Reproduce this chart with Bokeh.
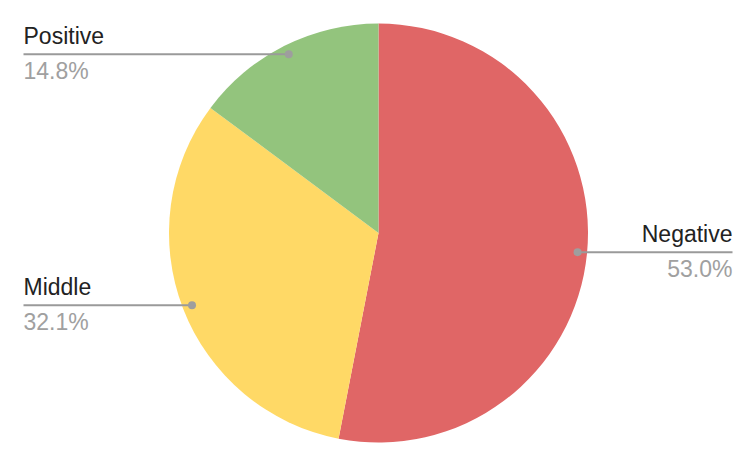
import math
from bokeh.plotting import figure
from bokeh.models import Range1d
from bokeh.core.properties import value
from bokeh.embed import file_html
from bokeh.resources import INLINE

categories = ["Negative", "Middle", "Positive"]
shares = [53.0, 32.1, 14.8]
pct_labels = ["53.0%", "32.1%", "14.8%"]
colors = ["#E06666", "#FFD966", "#93C47D"]

W, H = 756, 466
cx, cy, R = 378, H - 232.5, 209.5
dot_r = 200

p = figure(width=W, height=H, output_backend="svg", toolbar_location=None,
           x_range=Range1d(0, W), y_range=Range1d(0, H), min_border=0)
p.axis.visible = False
p.grid.visible = False
p.outline_line_color = None
p.background_fill_color = "white"

total = sum(shares)
start = math.pi / 2
starts, ends, mids = [], [], []
for s in shares:
    a = 2 * math.pi * s / total
    starts.append(start)
    ends.append(start - a)
    mids.append(start - a / 2)
    start -= a

p.wedge(x=[cx] * 3, y=[cy] * 3, radius=R, start_angle=starts, end_angle=ends,
        direction="clock", fill_color=colors, line_color=None)

font = value("Liberation Sans")
for cat, pct, m in zip(categories, pct_labels, mids):
    dx = cx + dot_r * math.cos(m)
    dy = cy + dot_r * math.sin(m)
    if dx > cx:
        xe, align = 732, "right"
    else:
        xe, align = 23, "left"
    p.line([dx, xe], [dy, dy], line_color="#9a9a9a", line_width=2)
    p.scatter([dx], [dy], size=8, fill_color="#9e9e9e", line_color=None)
    p.text([xe], [dy + 18], text=[cat], text_font=font, text_font_size="23px",
           text_color="#222222", text_align=align, text_baseline="alphabetic")
    p.text([xe], [dy - 17], text=[pct], text_font=font, text_font_size="23px",
           text_color="#a0a0a0", text_align=align, text_baseline="alphabetic")

open("out.html", "w").write(file_html(p, INLINE))
